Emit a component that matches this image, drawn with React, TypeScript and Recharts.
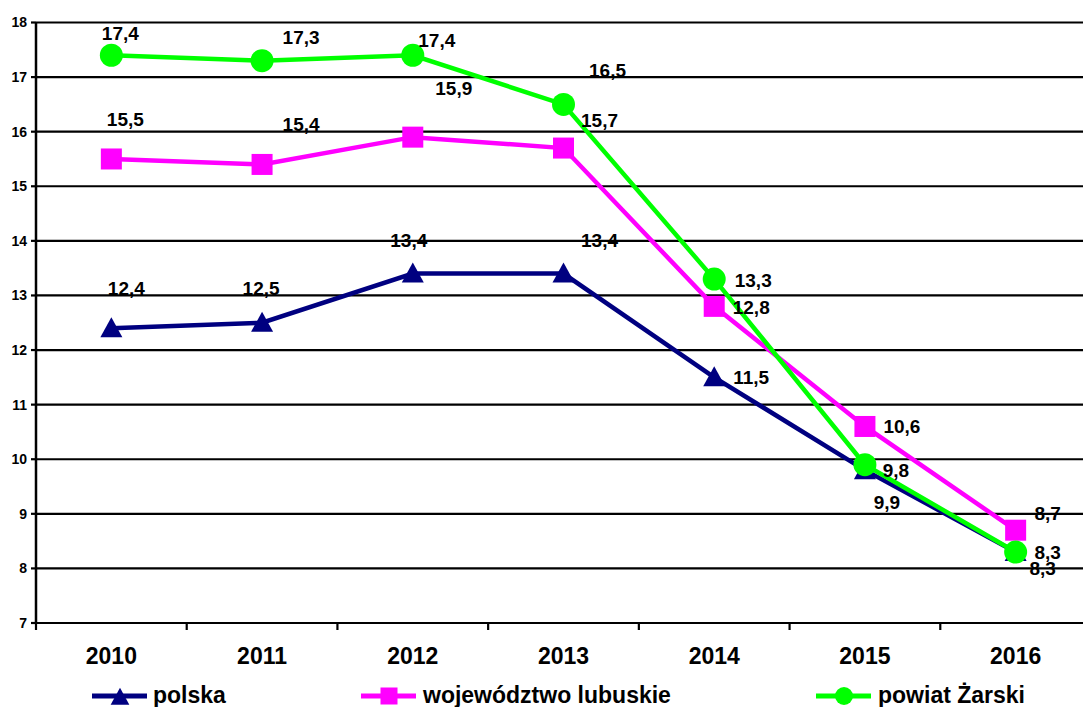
import React from 'react';
import { LineChart, Line, XAxis, YAxis, CartesianGrid, LabelList } from 'recharts';

const years = ['2010', '2011', '2012', '2013', '2014', '2015', '2016'];
const polska = [12.4, 12.5, 13.4, 13.4, 11.5, 9.8, 8.3];
const lubuskie = [15.5, 15.4, 15.9, 15.7, 12.8, 10.6, 8.7];
const zarski = [17.4, 17.3, 17.4, 16.5, 13.3, 9.9, 8.3];
const yTicks = [7, 8, 9, 10, 11, 12, 13, 14, 15, 16, 17, 18];
const xBoundaryTicks = [0, 1, 2, 3, 4, 5, 6, 7];
const xLabelTicks = [0.5, 1.5, 2.5, 3.5, 4.5, 5.5, 6.5];

const data = years.map((year, i) => ({
  pos: i + 0.5,
  year,
  polska: polska[i],
  lubuskie: lubuskie[i],
  zarski: zarski[i],
}));

// label offsets (style only)
const offPolska = [[15, -40], [-1, -34], [-4, -33], [36, -33], [37, 0], [31, 0], [27, 16]];
const offLubuskie = [[14, -39], [39, -40], [41, -49], [36, -28], [37, 1], [37, 0], [32, -17]];
const offZarski = [[9, -22], [39, -23], [24, -15], [44, -34], [39, 1], [22, 38], [32, 0]];

const FONT = 'Arial, "Liberation Sans", sans-serif';
const NAVY = '#000080';
const MAGENTA = '#FF00FF';
const GREEN = '#00FF00';

const fmt = (v: number) => v.toFixed(1).replace('.', ',');

const makeLabel = (offs: number[][]) => (props: any) => {
  const { x, y, value, index } = props;
  if (x == null || y == null) return null;
  const o = offs[index] || [0, 0];
  return (
    <text
      x={x + o[0]}
      y={y + o[1]}
      textAnchor="middle"
      dominantBaseline="central"
      fontFamily={FONT}
      fontWeight="bold"
      fontSize={19}
      fill="#000"
    >
      {fmt(Number(value))}
    </text>
  );
};

const Tri = ({ cx, cy, s = 1, color }: any) => (
  <path
    d={`M${cx},${cy - 11 * s} L${cx + 11 * s},${cy + 9 * s} L${cx - 11 * s},${cy + 9 * s} Z`}
    fill={color}
  />
);
const Sq = ({ cx, cy, half = 10.5, color }: any) => (
  <rect x={cx - half} y={cy - half} width={half * 2} height={half * 2} fill={color} />
);
const Circ = ({ cx, cy, r = 11.5, color }: any) => <circle cx={cx} cy={cy} r={r} fill={color} />;

const triDot = (p: any) => <Tri key={`t${p.index}`} cx={p.cx} cy={p.cy} color={NAVY} />;
const sqDot = (p: any) => <Sq key={`s${p.index}`} cx={p.cx} cy={p.cy} color={MAGENTA} />;
const circDot = (p: any) => <Circ key={`c${p.index}`} cx={p.cx} cy={p.cy} color={GREEN} />;

const Legend = () => (
  <svg
    width={1083}
    height={707}
    style={{ position: 'absolute', left: 0, top: 0, pointerEvents: 'none' }}
  >
    <g>
      <line x1={92} x2={147} y1={696} y2={696} stroke={NAVY} strokeWidth={5} />
      <Tri cx={120} cy={697} s={0.85} color={NAVY} />
      <text x={153} y={703} fontFamily={FONT} fontWeight="bold" fontSize={23} fill="#000">
        polska
      </text>
    </g>
    <g>
      <line x1={361} x2={416} y1={696} y2={696} stroke={MAGENTA} strokeWidth={5} />
      <Sq cx={389} cy={696} half={8.5} color={MAGENTA} />
      <text x={423} y={703} fontFamily={FONT} fontWeight="bold" fontSize={23} fill="#000">
        województwo lubuskie
      </text>
    </g>
    <g>
      <line x1={816} x2={871} y1={696} y2={696} stroke={GREEN} strokeWidth={5} />
      <Circ cx={844} cy={696} r={9} color={GREEN} />
      <text x={878} y={703} fontFamily={FONT} fontWeight="bold" fontSize={23} fill="#000">
        powiat Żarski
      </text>
    </g>
  </svg>
);

export default function App() {
  return (
    <div
      style={{
        position: 'absolute',
        left: 0,
        top: 0,
        width: 1083,
        height: 707,
        overflow: 'hidden',
        background: '#fff',
      }}
    >
      <LineChart
        width={1100}
        height={707}
        data={data}
        margin={{ top: 22.5, right: 9, left: 0, bottom: 36 }}
      >
        <CartesianGrid
          xAxisId="a"
          vertical={false}
          stroke="#000"
          strokeWidth={2.2}
        />
        <XAxis
          xAxisId="a"
          type="number"
          dataKey="pos"
          domain={[0, 7]}
          ticks={xBoundaryTicks}
          interval={0}
          height={8}
          tickSize={7}
          tickLine={{ stroke: '#000', strokeWidth: 2.2 }}
          axisLine={{ stroke: '#000', strokeWidth: 2.2 }}
          tick={() => <g />}
        />
        <XAxis
          xAxisId="z"
          type="number"
          dataKey="pos"
          domain={[0, 7]}
          ticks={xLabelTicks}
          interval={0}
          height={40}
          tickSize={0}
          tickMargin={17}
          axisLine={false}
          tickLine={false}
          tickFormatter={(v: number) => years[Math.floor(v)]}
          tick={{ fontSize: 23, fontWeight: 'bold', fill: '#000', fontFamily: FONT }}
        />
        <YAxis
          type="number"
          domain={[7, 18]}
          ticks={yTicks}
          interval={0}
          width={36}
          tickSize={5}
          tickMargin={4}
          tickLine={{ stroke: '#000', strokeWidth: 2.2 }}
          axisLine={{ stroke: '#000', strokeWidth: 2.5 }}
          tick={{ fontSize: 14, fontWeight: 'bold', fill: '#000', fontFamily: FONT }}
        />
        <Line
          xAxisId="a"
          type="linear"
          dataKey="polska"
          stroke={NAVY}
          strokeWidth={4.5}
          dot={triDot}
          activeDot={false}
          isAnimationActive={false}
        >
          <LabelList dataKey="polska" content={makeLabel(offPolska)} />
        </Line>
        <Line
          xAxisId="a"
          type="linear"
          dataKey="lubuskie"
          stroke={MAGENTA}
          strokeWidth={4.5}
          dot={sqDot}
          activeDot={false}
          isAnimationActive={false}
        >
          <LabelList dataKey="lubuskie" content={makeLabel(offLubuskie)} />
        </Line>
        <Line
          xAxisId="a"
          type="linear"
          dataKey="zarski"
          stroke={GREEN}
          strokeWidth={4.5}
          dot={circDot}
          activeDot={false}
          isAnimationActive={false}
        >
          <LabelList dataKey="zarski" content={makeLabel(offZarski)} />
        </Line>
      </LineChart>
      <Legend />
    </div>
  );
}
